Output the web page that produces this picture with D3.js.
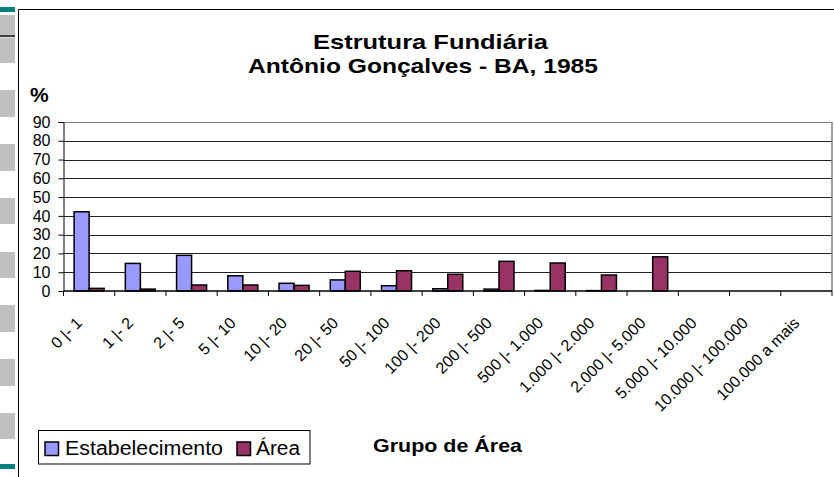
<!DOCTYPE html>
<html>
<head>
<meta charset="utf-8">
<script src="https://cdn.jsdelivr.net/npm/d3@7"></script>
<style>
  body { margin: 0; background: #fff; }
  svg { display: block; font-family: "Liberation Sans", Arial, sans-serif; }
</style>
</head>
<body>
<div id="chart"></div>
<script>
// data (%)
var categories = ["0 |- 1", "1 |- 2", "2 |- 5", "5 |- 10", "10 |- 20", "20 |- 50", "50 |- 100",
  "100 |- 200", "200 |- 500", "500 |- 1.000", "1.000 |- 2.000", "2.000 |- 5.000",
  "5.000 |- 10.000", "10.000 |- 100.000", "100.000 a mais"];
var estabelecimento = [42.2, 14.7, 19.0, 8.1, 4.1, 5.9, 2.8, 1.2, 1.0, 0.3, 0.2, 0, 0, 0, 0];
var area = [1.4, 1.0, 3.2, 3.2, 3.0, 10.5, 10.8, 8.9, 15.8, 14.9, 8.5, 18.2, 0, 0, 0];
var seriesNames = ["Estabelecimento", "Área"];
var seriesColors = ["#9999ff", "#993366"];
var yTicks = [0, 10, 20, 30, 40, 50, 60, 70, 80, 90];
var titleLines = ["Estrutura Fundiária", "Antônio Gonçalves - BA, 1985"];

var width = 834, height = 477;
var plot = {left: 63.5, right: 832, top: 122, bottom: 291};

var svg = d3.select("#chart").append("svg")
  .attr("width", width)
  .attr("height", height);

svg.append("rect").attr("width", width).attr("height", height).attr("fill", "#fff");

// slide strip on the left edge
var stripGray = [[15, 35], [37.5, 63], [90, 117], [144, 171], [198, 224], [252, 278], [305, 332], [359, 386], [413, 439]];
svg.selectAll("rect.strip").data(stripGray).enter().append("rect")
  .attr("class", "strip")
  .attr("x", 0).attr("width", 15)
  .attr("y", function(d) { return d[0]; })
  .attr("height", function(d) { return d[1] - d[0]; })
  .attr("fill", "#c0c0c0");
svg.append("line").attr("x1", 0).attr("x2", 15).attr("y1", 36).attr("y2", 36).attr("stroke", "#000").attr("stroke-width", 1.5);
svg.append("rect").attr("x", 0).attr("y", 7).attr("width", 15).attr("height", 5).attr("fill", "#008080");
svg.append("rect").attr("x", 0).attr("y", 464).attr("width", 15).attr("height", 5).attr("fill", "#008080");

// chart frame
svg.append("path")
  .attr("d", "M18.5," + height + "V9.5H" + width)
  .attr("fill", "none").attr("stroke", "#000").attr("stroke-width", 1);

// scales
var x0 = d3.scaleBand().domain(categories).range([plot.left, plot.right]).padding(0);
var x1 = d3.scaleBand().domain(seriesNames)
  .range([x0.bandwidth() * 0.207, x0.bandwidth() * 0.793]).padding(0);
var y = d3.scaleLinear().domain([0, 90]).range([plot.bottom, plot.top]);

// gridlines
svg.append("g").selectAll("line").data(yTicks.slice(1)).enter().append("line")
  .attr("x1", plot.left).attr("x2", plot.right)
  .attr("y1", function(d) { return Math.round(y(d)) + 0.5; })
  .attr("y2", function(d) { return Math.round(y(d)) + 0.5; })
  .attr("stroke", function(d) { return d === 90 ? "#808080" : "#222"; })
  .attr("stroke-width", 1);
svg.append("line")
  .attr("x1", plot.right).attr("x2", plot.right)
  .attr("y1", plot.top).attr("y2", plot.bottom)
  .attr("stroke", "#808080").attr("stroke-width", 1.5);

// bars
var rows = categories.map(function(c, i) { return {cat: c, vals: [estabelecimento[i], area[i]]}; });
var groups = svg.append("g").selectAll("g").data(rows).enter().append("g")
  .attr("transform", function(d) { return "translate(" + x0(d.cat) + ",0)"; });
groups.selectAll("rect").data(function(d) {
    return d.vals.map(function(v, k) { return {name: seriesNames[k], v: v, k: k}; });
  }).enter().append("rect")
  .attr("x", function(d) { return x1(d.name); })
  .attr("width", x1.bandwidth())
  .attr("y", function(d) { return y(d.v); })
  .attr("height", function(d) { return y(0) - y(d.v); })
  .attr("fill", function(d) { return seriesColors[d.k]; })
  .attr("stroke", "#000")
  .attr("stroke-width", 1.5);

// y axis
var yAxis = d3.axisLeft(y).tickValues(yTicks).tickSize(5).tickPadding(8);
var yg = svg.append("g").attr("transform", "translate(" + plot.left + ",0)").call(yAxis);
yg.select(".domain").attr("stroke", "#000");
yg.selectAll(".tick line").attr("stroke", "#000");
yg.selectAll(".tick text").attr("font-size", 16).attr("fill", "#000")
  .attr("font-family", "Liberation Sans, Arial, sans-serif");

// x axis: ticks on category boundaries
var xg = svg.append("g").attr("transform", "translate(0," + plot.bottom + ")");
xg.append("line").attr("x1", plot.left).attr("x2", plot.right).attr("stroke", "#000").attr("stroke-width", 1.5);
var bounds = categories.map(function(c) { return x0(c); }).concat([plot.right]);
xg.selectAll("line.tk").data(bounds).enter().append("line")
  .attr("class", "tk")
  .attr("x1", function(d) { return d; }).attr("x2", function(d) { return d; })
  .attr("y1", 0).attr("y2", 5).attr("stroke", "#000");
xg.selectAll("text").data(categories).enter().append("text")
  .attr("transform", function(d) {
    return "translate(" + (x0(d) + x0.bandwidth() / 2 - 6) + ",33) rotate(-45)";
  })
  .attr("text-anchor", "end")
  .attr("font-size", 16)
  .text(function(d) { return d; });

// titles
svg.append("text").attr("x", 313).attr("y", 48.5)
  .attr("font-size", 21).attr("font-weight", "bold")
  .attr("textLength", 235).attr("lengthAdjust", "spacingAndGlyphs")
  .text(titleLines[0]);
svg.append("text").attr("x", 248).attr("y", 73)
  .attr("font-size", 21).attr("font-weight", "bold")
  .attr("textLength", 350).attr("lengthAdjust", "spacingAndGlyphs")
  .text(titleLines[1]);
svg.append("text").attr("x", 30).attr("y", 102)
  .attr("font-size", 21).attr("font-weight", "bold")
  .text("%");
svg.append("text").attr("x", 373).attr("y", 451.5)
  .attr("font-size", 19).attr("font-weight", "bold")
  .attr("textLength", 149).attr("lengthAdjust", "spacingAndGlyphs")
  .text("Grupo de Área");

// legend
var lg = svg.append("g");
lg.append("rect").attr("x", 38.5).attr("y", 430.5).attr("width", 271.5).attr("height", 33.5)
  .attr("fill", "#fff").attr("stroke", "#000");
var legendItems = [
  {name: seriesNames[0], color: seriesColors[0], sx: 45, tx: 65, tw: 158},
  {name: seriesNames[1], color: seriesColors[1], sx: 237, tx: 256, tw: 44}
];
legendItems.forEach(function(d) {
  lg.append("rect").attr("x", d.sx).attr("y", 442).attr("width", 13.5).attr("height", 13.5)
    .attr("fill", d.color).attr("stroke", "#000").attr("stroke-width", 1.5);
  lg.append("text").attr("x", d.tx).attr("y", 454.5)
    .attr("font-size", 20)
    .attr("textLength", d.tw).attr("lengthAdjust", "spacingAndGlyphs")
    .text(d.name);
});
</script>
</body>
</html>
